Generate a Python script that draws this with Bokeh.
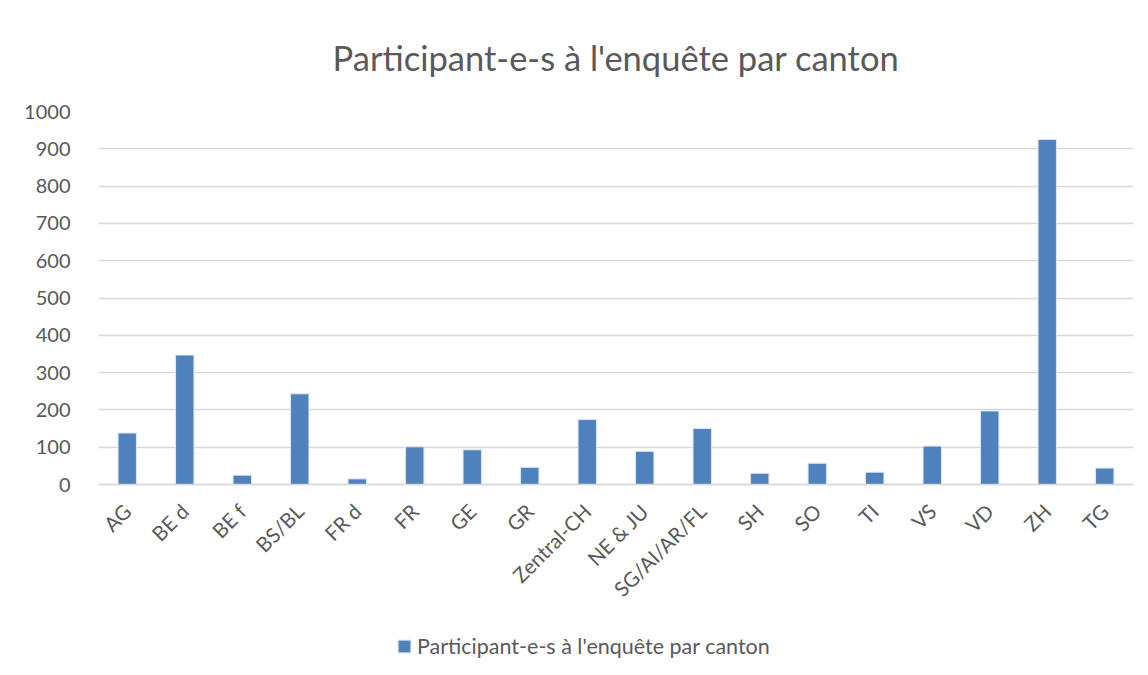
from math import pi
from bokeh.plotting import figure
from bokeh.models import ColumnDataSource, Legend, LegendItem, FixedTicker, Range1d
from bokeh.embed import file_html
from bokeh.resources import INLINE

categories = ["AG", "BE d", "BE f", "BS/BL", "FR d", "FR", "GE", "GR", "Zentral-CH",
              "NE & JU", "SG/AI/AR/FL", "SH", "SO", "TI", "VS", "VD", "ZH", "TG"]
values = [138, 347, 25, 243, 15, 101, 93, 46, 174, 89, 150, 30, 57, 33, 103, 197, 925, 44]
series_name = "Participant-e-s à l'enquête par canton"
title_text = "Participant-e-s à l'enquête par canton"
y_ticks = [0, 100, 200, 300, 400, 500, 600, 700, 800, 900, 1000]

FONT = "Lato"
TXT = "#595959"
BLUE = "#4F81BD"

# frame extends below the zero line so that the rotated labels and legend live inside it
FRAME_H = 554
Y_TOP = 1000
Y_BOTTOM = -Y_TOP * (FRAME_H - 373) / 373

src = ColumnDataSource(dict(cat=categories, val=values))

p = figure(x_range=categories, y_range=Range1d(Y_BOTTOM, Y_TOP),
           frame_width=1035, frame_height=FRAME_H,
           output_backend="svg", toolbar_location=None,
           min_border_left=98, min_border_right=8, min_border_top=111, min_border_bottom=8)

r = p.vbar(x="cat", top="val", bottom=0, width=0.32, source=src, fill_color=BLUE,
           line_color="#dce6f2", line_width=1)

p.title.text = title_text
p.title.align = "center"
p.title.text_font = FONT
p.title.text_font_size = "34.5px"
p.title.text_font_style = "normal"
p.title.text_color = TXT
p.title.standoff = 67

p.outline_line_color = None
p.background_fill_color = "white"
p.border_fill_color = "white"

p.xgrid.grid_line_color = None
p.ygrid.ticker = FixedTicker(ticks=y_ticks)
p.ygrid.grid_line_color = "#d9d9d9"
p.ygrid.grid_line_width = 1.5

p.yaxis.ticker = FixedTicker(ticks=y_ticks)
p.yaxis.axis_line_color = None
p.yaxis.major_tick_line_color = None
p.yaxis.minor_tick_line_color = None
p.yaxis.major_label_text_font = FONT
p.yaxis.major_label_text_font_size = "20px"
p.yaxis.major_label_text_color = TXT
p.yaxis.major_label_standoff = 22

p.xaxis.fixed_location = 0
p.xaxis.axis_line_color = "#d9d9d9"
p.xaxis.axis_line_width = 1.5
p.xaxis.major_tick_line_color = None
p.xaxis.minor_tick_line_color = None
p.xaxis.major_label_orientation = pi / 4
p.xaxis.major_label_text_align = "right"
p.xaxis.major_label_text_baseline = "middle"
p.xaxis.major_label_text_font = FONT
p.xaxis.major_label_text_font_size = "20.5px"
p.xaxis.major_label_text_color = TXT
p.xaxis.major_label_standoff = 17
p.x_range.range_padding = 0.0

legend = Legend(items=[LegendItem(label=series_name, renderers=[r])],
                orientation="horizontal", location=(298, 6),
                label_text_font=FONT, label_text_font_size="21.5px",
                label_text_color=TXT, glyph_width=16, glyph_height=16,
                label_height=20, border_line_color=None, background_fill_alpha=0,
                margin=0, padding=2, label_standoff=5)
p.add_layout(legend, "center")

open("out.html", "w").write(file_html(p, INLINE))
